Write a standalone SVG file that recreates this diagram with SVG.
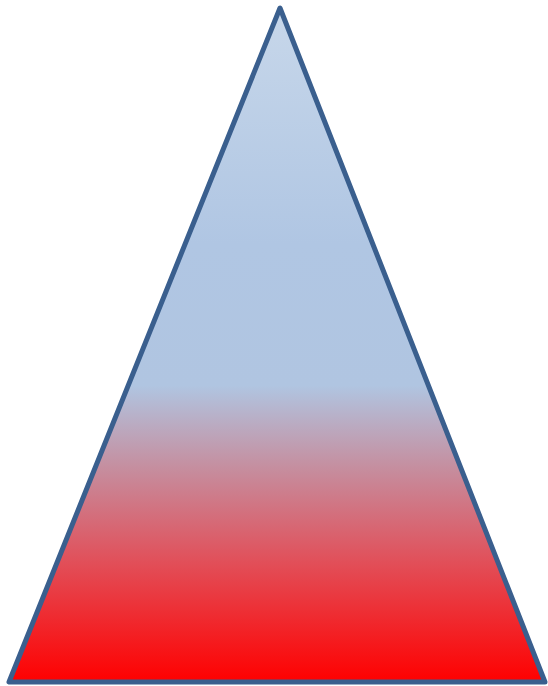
<svg xmlns="http://www.w3.org/2000/svg" width="548" height="686" viewBox="0 0 548 686">
<defs>
<linearGradient id="g" x1="0" y1="8" x2="0" y2="682" gradientUnits="userSpaceOnUse">
<stop offset="0" stop-color="#C7D7EA"/>
<stop offset="0.35" stop-color="#B0C6E3"/>
<stop offset="0.56" stop-color="#B0C5E1"/>
<stop offset="0.68" stop-color="#C58FA0"/>
<stop offset="0.82" stop-color="#E1505A"/>
<stop offset="1" stop-color="#FF0000"/>
</linearGradient>
<style>.tri{fill:url(#g);stroke:#3A5F8E;stroke-width:5;stroke-linejoin:round}</style>
</defs>
<g id="triangle">
<polygon class="tri" points="280,8 9,682 545,682"/>
</g>
</svg>
